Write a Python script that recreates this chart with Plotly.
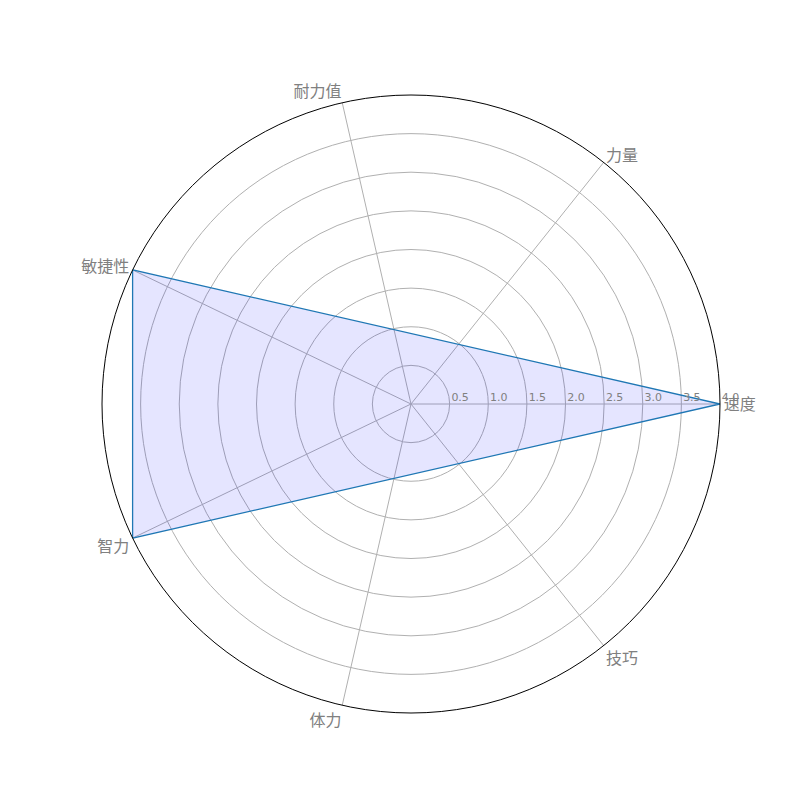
import plotly.graph_objects as go

categories = ["速度", "力量", "耐力值", "敏捷性", "智力", "体力", "技巧"]
# values only present on some axes (others missing)
values = [4, None, None, 4, 4, None, None]
radial_ticks = [0.5, 1.0, 1.5, 2.0, 2.5, 3.0, 3.5, 4.0]

pts = [(c, v) for c, v in zip(categories, values) if v is not None]
theta = [c for c, _ in pts] + [pts[0][0]]
r = [v for _, v in pts] + [pts[0][1]]

fig = go.Figure()
fig.add_trace(go.Scatterpolar(
    r=r, theta=theta, mode="lines", fill="toself",
    line=dict(color="#1f77b4", width=1.3),
    fillcolor="rgba(0,0,255,0.1)",
    showlegend=False, hoverinfo="skip",
))

nb = "\u00a0" * 6
fig.update_layout(
    width=800, height=800,
    margin=dict(l=0, r=0, t=0, b=0),
    paper_bgcolor="white",
    font=dict(family="DejaVu Sans, Noto Sans CJK SC", color="#808080"),
    polar=dict(
        domain=dict(x=[0.1175, 0.89], y=[0.11875, 0.89125]),
        bgcolor="white",
        angularaxis=dict(
            type="category",
            categoryorder="array", categoryarray=categories,
            direction="counterclockwise", rotation=0,
            showline=True, linecolor="black", linewidth=1,
            showgrid=True, gridcolor="#b0b0b0", gridwidth=1,
            ticks="", tickfont=dict(size=16, color="#808080"),
        ),
        radialaxis=dict(
            range=[0, 4], angle=0, tickangle=0, side="counterclockwise",
            tickvals=radial_ticks,
            ticktext=[f"{nb}{v:.1f}" for v in radial_ticks],
            showline=False, showgrid=True, gridcolor="#b0b0b0", gridwidth=1,
            ticks="", tickfont=dict(size=11, color="#808080"),
        ),
    ),
)

fig.write_html("out.html")
